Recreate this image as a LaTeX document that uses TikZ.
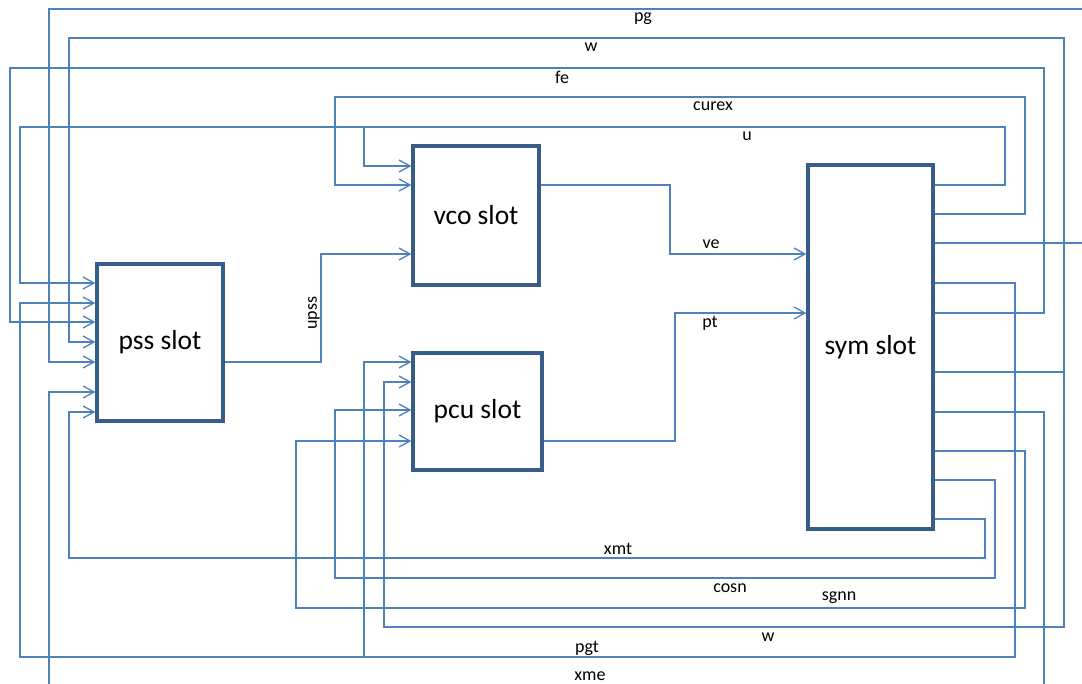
\documentclass[tikz,border=0pt]{standalone}
\usepackage{fontspec}
\setmainfont{Carlito}
\usetikzlibrary{arrows.meta}
\definecolor{conn}{RGB}{79,129,189}
\definecolor{boxc}{RGB}{56,93,138}
\tikzset{
  slot/.style={draw=boxc, line width=3.2pt, fill=white, inner sep=0pt, font=\fontsize{27.5}{31}\selectfont},
  wire/.style={draw=conn, line width=1.3pt},
  arr/.style={wire, -{Straight Barb[length=11pt,width=12pt]}},
  lbl/.style={inner sep=0pt, font=\fontsize{18}{20}\selectfont}
}
\begin{document}
\begin{tikzpicture}[x=1pt, y=-1pt]
\useasboundingbox (0,0) rectangle (1082,684);
% boxes
\node[slot, minimum width=126pt, minimum height=157pt] (pss) at (160,342.5) {pss slot};
\node[slot, minimum width=126pt, minimum height=139pt] (vco) at (476,215.5) {vco slot};
\node[slot, minimum width=129pt, minimum height=117pt] (pcu) at (477.5,411.5) {pcu slot};
\node[slot, minimum width=125pt, minimum height=364pt] (sym) at (870.5,347) {sym slot};
% free ends
\coordinate (pgR) at (1082,9);
\coordinate (pgS) at (1082,243);
\coordinate (xmeB) at (1044,684);
\coordinate (xmeL) at (49,684);
% pg
\draw[wire] (sym.east |- 0,243) -- (pgS);
\draw[arr] (pgR) -| (49,362) -- (pss.west |- 0,362);
% w (top and bottom)
\draw[wire] (sym.east |- 0,372) -- (1064,372);
\draw[arr] (1064,372) -- (1064,38) -| (69,342) -- (pss.west |- 0,342);
\draw[arr] (1064,372) -- (1064,627) -| (384,382) -- (pcu.west |- 0,382);
% fe
\draw[arr] (sym.east |- 0,313) -| (1044,68) -| (10,322) -- (pss.west |- 0,322);
% curex
\draw[arr] (sym.east |- 0,214) -| (1025,97) -| (335,185) -- (vco.west |- 0,185);
% u
\draw[arr] (sym.east |- 0,185) -| (1005,127) -| (20,283) -- (pss.west |- 0,283);
\draw[arr] (364,127) -- (364,166) -- (vco.west |- 0,166);
% ve
\draw[arr] (vco.east |- 0,185) -| (670,254) -- (sym.west |- 0,254);
% upss
\draw[arr] (pss.east |- 0,362) -| (321,254) -- (vco.west |- 0,254);
% pt
\draw[arr] (pcu.east |- 0,441) -| (675,313) -- (sym.west |- 0,313);
% pgt
\draw[arr] (sym.east |- 0,283) -| (1015,657) -| (20,303) -- (pss.west |- 0,303);
\draw[arr] (364,657) -- (364,362) -- (pcu.west |- 0,362);
% xme
\draw[wire] (sym.east |- 0,412) -| (xmeB);
\draw[arr] (xmeL) -- (49,392) -- (pss.west |- 0,392);
% sgnn
\draw[arr] (sym.east |- 0,451) -| (1025,608) -| (296,441) -- (pcu.west |- 0,441);
% cosn
\draw[arr] (sym.east |- 0,480) -| (995,578) -| (335,410) -- (pcu.west |- 0,410);
% xmt
\draw[arr] (sym.east |- 0,519) -| (985,558) -| (69,412) -- (pss.west |- 0,412);
% labels
\node[lbl] (lpg) at (643,19) {pg};
\node[lbl] (lw1) at (591,47) {w};
\node[lbl] (lfe) at (562,77) {fe};
\node[lbl] (lcurex) at (713,106) {curex};
\node[lbl] (lu) at (747,136) {u};
\node[lbl] (lve) at (711,244) {ve};
\node[lbl] (lpt) at (710,323) {pt};
\node[lbl, rotate=90] (lupss) at (314,313) {upss};
\node[lbl] (lxmt) at (618,549) {xmt};
\node[lbl] (lcosn) at (730,588) {cosn};
\node[lbl] (lsgnn) at (839,598) {sgnn};
\node[lbl] (lw2) at (768,637) {w};
\node[lbl] (lpgt) at (587,648) {pgt};
\node[lbl] (lxme) at (590,676) {xme};
\end{tikzpicture}
\end{document}
